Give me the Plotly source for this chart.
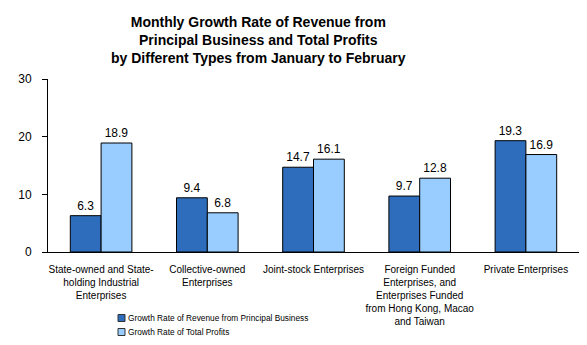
import plotly.graph_objects as go

categories = [
    "State-owned and State-<br>holding Industrial<br>Enterprises",
    "Collective-owned<br>Enterprises",
    "Joint-stock Enterprises",
    "Foreign Funded<br>Enterprises, and<br>Enterprises Funded<br>from Hong Kong, Macao<br>and Taiwan",
    "Private Enterprises",
]
revenue = [6.3, 9.4, 14.7, 9.7, 19.3]
profits = [18.9, 6.8, 16.1, 12.8, 16.9]
series_names = ["Growth Rate of Revenue from Principal Business", "Growth Rate of Total Profits"]
series_colors = ["#2E6DBB", "#99CCFF"]
y_ticks = [0, 10, 20, 30]

x = list(range(len(categories)))
font_fam = "Liberation Sans, Arial, sans-serif"

fig = go.Figure()
for vals, name, col in zip([revenue, profits], series_names, series_colors):
    fig.add_trace(go.Bar(
        x=x, y=vals, name=name,
        marker=dict(color=col, line=dict(color="black", width=1)),
        text=[f"{v:.1f}" for v in vals], textposition="outside",
        textfont=dict(size=12, color="black", family=font_fam), cliponaxis=False,
        showlegend=False,
    ))

# Title
fig.add_annotation(
    text="<b>Monthly Growth Rate of Revenue from<br>Principal Business and Total Profits<br>by Different Types from January to February</b>",
    xref="paper", yref="paper", x=(258 - 48) / 531.0, y=1.0, yshift=67, xanchor="center", yanchor="top",
    showarrow=False, font=dict(size=14, color="black", family=font_fam), align="center",
)

# Legend (manual, compact like reference)
leg_y = [318, 332]
for i, (name, col) in enumerate(zip(series_names, series_colors)):
    ypx = leg_y[i]
    yp = (252 - ypx) / 173.0
    sq = 3.5 / 173.0
    fig.add_shape(type="rect", xref="paper", yref="paper",
                  x0=(118 - 48) / 531.0, x1=(125 - 48) / 531.0,
                  y0=yp - sq, y1=yp + sq,
                  fillcolor=col, line=dict(color="#333333", width=1))
    fig.add_annotation(text=name, xref="paper", yref="paper",
                       x=(126 - 48) / 531.0, y=yp, xanchor="left", yanchor="middle",
                       showarrow=False, font=dict(size=8.3, color="black", family=font_fam))

fig.update_layout(
    width=587, height=345,
    margin=dict(l=48, r=8, t=79, b=93, autoexpand=False),
    paper_bgcolor="white", plot_bgcolor="white",
    font=dict(family=font_fam, color="black"),
    barmode="group", bargap=0.42, bargroupgap=0.0,
    showlegend=False,
    xaxis=dict(
        tickvals=x, ticktext=categories, range=[-0.5, len(categories) - 0.5],
        showline=True, linecolor="black", linewidth=1, ticks="",
        tickfont=dict(size=10, family=font_fam), showgrid=False, zeroline=False,
        tickangle=0, automargin=False, ticklabelstandoff=8,
    ),
    yaxis=dict(
        range=[0, 30], tickvals=y_ticks, showline=True, linecolor="black", linewidth=1,
        ticks="outside", ticklen=5, tickcolor="black", showgrid=False, zeroline=False,
        tickfont=dict(size=12, family=font_fam), ticklabelstandoff=8, automargin=False,
    ),
)

fig.write_html("out.html")
